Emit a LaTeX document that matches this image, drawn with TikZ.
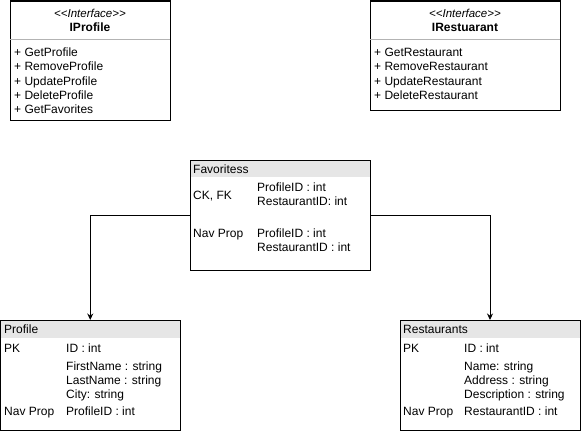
\documentclass[tikz,border=0pt]{standalone}
\usepackage{fontspec}
\setmainfont{Liberation Sans}
\usetikzlibrary{arrows.meta}
\definecolor{hdrgray}{HTML}{E6E6E6}
\definecolor{sepgray}{HTML}{B3B3B3}
\tikzset{
  box/.style={draw=black, line width=1pt, rectangle, inner sep=0pt, outer sep=0pt},
  txt/.style={anchor=base west, inner sep=0pt, font=\fontsize{12}{14}\selectfont},
  stereo/.style={anchor=base, inner sep=0pt, font=\fontsize{11.5}{13}\selectfont\itshape},
  title/.style={anchor=base, inner sep=0pt, font=\fontsize{12}{14}\selectfont\bfseries},
  link/.style={draw=black, line width=1pt, -{Stealth[length=6.5pt,width=6pt]}},
}
% angle brackets kept apart so they are not joined into guillemets
\newcommand{\stereotag}[1]{<\kern0pt<#1>\kern0pt>}
\begin{document}
\begin{tikzpicture}[x=1pt, y=-1pt]
\useasboundingbox (0,0) rectangle (581,431);
\fill[white] (0,0) rectangle (581,431);

% header bands of the entity tables
\fill[hdrgray] (190,160) rectangle (370,177);
\fill[hdrgray] (0.5,320) rectangle (180,338);
\fill[hdrgray] (400,320) rectangle (580,338);

% interface IProfile
\node[box, minimum width=160pt, minimum height=119pt] (iprof) at (90,60.5) {};
\draw[sepgray, line width=0.8pt] (10,39) -- (170,39);
\node[stereo] (iprofst) at (90,17) {\stereotag{Interface}};
\node[title] (iproft) at (90,31) {IProfile};
\node[txt] (ip1) at (14,56) {+ GetProfile};
\node[txt] (ip2) at (14,70.5) {+ RemoveProfile};
\node[txt] (ip3) at (14,85) {+ UpdateProfile};
\node[txt] (ip4) at (14,99) {+ DeleteProfile};
\node[txt] (ip5) at (14,113) {+ GetFavorites};

% interface IRestaurant
\node[box, minimum width=190pt, minimum height=109pt] (irest) at (465,55.5) {};
\draw[sepgray, line width=0.8pt] (370,39) -- (560,39);
\node[stereo] (irestst) at (465,17) {\stereotag{Interface}};
\node[title] (irestt) at (465,31) {IRestuarant};
\node[txt] (ir1) at (374,56) {+ GetRestaurant};
\node[txt] (ir2) at (374,70.5) {+ RemoveRestaurant};
\node[txt] (ir3) at (374,85) {+ UpdateRestaurant};
\node[txt] (ir4) at (374,99) {+ DeleteRestaurant};

% table Favoritess
\node[box, minimum width=180pt, minimum height=110pt] (fav) at (280,215) {};
\node[txt] (favt) at (193,173) {Favoritess};
\node[txt] (favk) at (193,199.5) {CK, FK};
\node[txt] (favk1) at (257,191.5) {ProfileID : int};
\node[txt] (favk2) at (257,205.5) {RestaurantID: int};
\node[txt] (favn) at (193,237.5) {Nav Prop};
\node[txt] (favn1) at (257,237.5) {ProfileID : int};
\node[txt] (favn2) at (257,251.5) {RestaurantID : int};

% table Profile
\node[box, minimum width=179.5pt, minimum height=110pt] (prof) at (90.25,375) {};
\node[txt] (proft) at (4,333.5) {Profile};
\node[txt] (profpk) at (4,352.5) {PK};
\node[txt] (prof1) at (66,352.5) {ID : int};
\node[txt] (prof2) at (66,370.5) {FirstName : string};
\node[txt] (prof3) at (66,384.5) {LastName : string};
\node[txt] (prof4) at (66,398.5) {City: string};
\node[txt] (profnp) at (4,415.5) {Nav Prop};
\node[txt] (prof5) at (66,415.5) {ProfileID : int};

% table Restaurants
\node[box, minimum width=180pt, minimum height=110pt] (rest) at (490,375) {};
\node[txt] (restt) at (403,333.5) {Restaurants};
\node[txt] (restpk) at (403,352.5) {PK};
\node[txt] (rest1) at (464,352.5) {ID : int};
\node[txt] (rest2) at (464,370.5) {Name: string};
\node[txt] (rest3) at (464,384.5) {Address : string};
\node[txt] (rest4) at (464,398.5) {Description : string};
\node[txt] (restnp) at (403,415.5) {Nav Prop};
\node[txt] (rest5) at (464,415.5) {RestaurantID : int};

% relations
\draw[link] (fav.west) -| (prof.north);
\draw[link] (fav.east) -| (rest.north);
\end{tikzpicture}
\end{document}
